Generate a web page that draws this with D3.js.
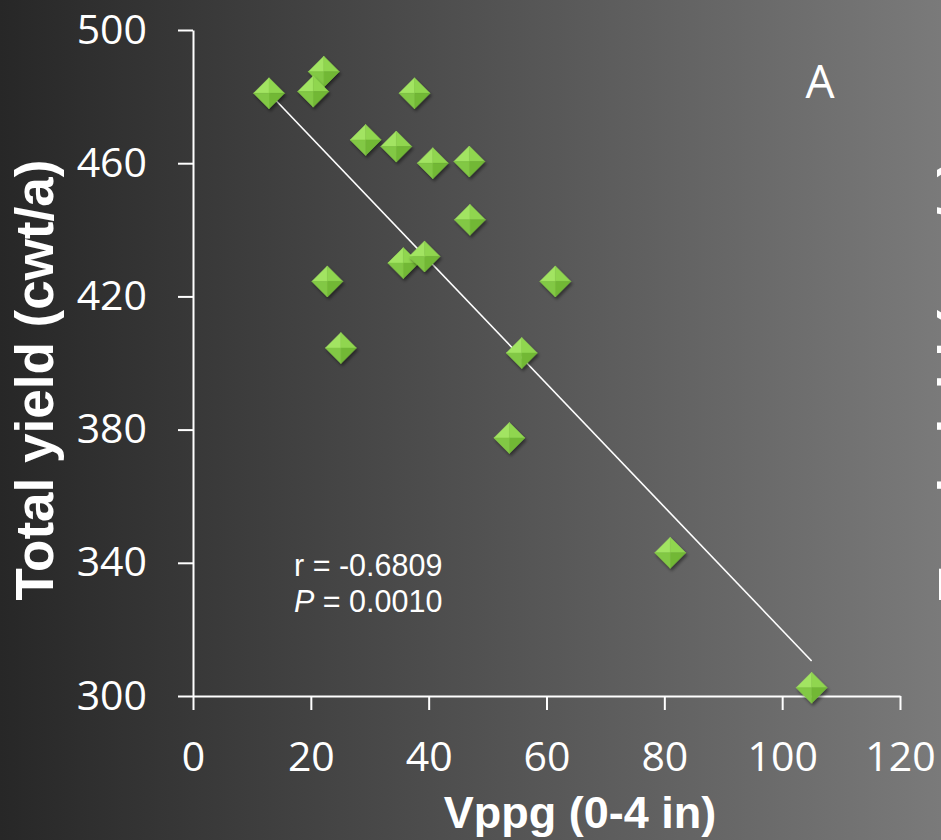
<!DOCTYPE html>
<html>
<head>
<meta charset="utf-8">
<script src="https://cdn.jsdelivr.net/npm/d3@7"></script>
<style>
  html, body { margin: 0; padding: 0; background: #333; }
  svg { display: block; }
</style>
</head>
<body>
<div id="chart"></div>
<script>
// values
const vppg  = [12.9, 22.2, 20.4, 37.6, 29.3, 34.5, 40.7, 46.9, 47.0, 35.7, 39.3, 22.8, 61.5, 25.1, 55.8, 53.7, 81.0, 105.0];
const yield_ = [481.0, 487.5, 481.5, 481.0, 467.0, 465.0, 460.0, 460.5, 443.0, 430.0, 432.0, 424.5, 424.5, 404.5, 403.0, 377.5, 343.0, 302.5];

// fitted line end points
const fitX = [12.9, 105.0];
const fitY = [481.0, 310.5];

const xTicks = [0, 20, 40, 60, 80, 100, 120];
const yTicks = [300, 340, 380, 420, 460, 500];

const width = 941;
const height = 840;

const svg = d3.select("#chart").append("svg")
    .attr("width", width)
    .attr("height", height);

const defs = svg.append("defs");

// 背景漸層
const grad = defs.append("linearGradient")
    .attr("id", "bg")
    .attr("x1", "0%").attr("x2", "100%")
    .attr("y1", "0%").attr("y2", "0%");
grad.append("stop").attr("offset", "0%").attr("stop-color", "#272727");
grad.append("stop").attr("offset", "100%").attr("stop-color", "#7a7a7a");

const shadow = defs.append("filter")
    .attr("id", "shadow")
    .attr("x", "-50%").attr("y", "-50%")
    .attr("width", "200%").attr("height", "200%");
shadow.append("feDropShadow")
    .attr("dx", 1.5).attr("dy", 2.5)
    .attr("stdDeviation", 1.8)
    .attr("flood-color", "#000")
    .attr("flood-opacity", 0.45);

svg.append("rect")
    .attr("width", width)
    .attr("height", height)
    .attr("fill", "url(#bg)");

// scales
const x = d3.scaleLinear().domain([0, 120]).range([193, 900]);
const y = d3.scaleLinear().domain([300, 500]).range([696, 30]);

const tickFont = "'Open Sans', 'DejaVu Sans', sans-serif";

// x axis
const xAxis = d3.axisBottom(x)
    .tickValues(xTicks)
    .tickSize(14)
    .tickSizeOuter(0)
    .tickPadding(32);

const gx = svg.append("g")
    .attr("transform", `translate(0,${y(300)})`)
    .call(xAxis);

// y axis
const yAxis = d3.axisLeft(y)
    .tickValues(yTicks)
    .tickSize(15)
    .tickSizeOuter(0)
    .tickPadding(31);

const gy = svg.append("g")
    .attr("transform", `translate(${x(0)},0)`)
    .call(yAxis);

[gx, gy].forEach(g => {
    g.select(".domain").attr("stroke", "#fff").attr("stroke-width", 2);
    g.selectAll(".tick line").attr("stroke", "#fff").attr("stroke-width", 2);
    g.selectAll(".tick text")
        .attr("fill", "#fff")
        .style("font-family", tickFont)
        .style("font-size", "41px");
});

// 回歸線
const line = d3.line()
    .x(d => x(d[0]))
    .y(d => y(d[1]));

svg.append("path")
    .datum(d3.zip(fitX, fitY))
    .attr("d", line)
    .attr("fill", "none")
    .attr("stroke", "#fff")
    .attr("stroke-width", 1.6);

// diamond markers with bevel faces
const r = 15.5;
const faces = [
    {pts: [[0, 0], [-r, 0], [0, -r]], fill: "#a2e462"},
    {pts: [[0, 0], [0, -r], [r, 0]], fill: "#90d650"},
    {pts: [[0, 0], [r, 0], [0, r]], fill: "#72b836"},
    {pts: [[0, 0], [0, r], [-r, 0]], fill: "#82c844"}
];

const pts = svg.append("g").attr("class", "points");

const marker = pts.selectAll("g")
    .data(d3.zip(vppg, yield_))
    .join("g")
    .attr("transform", d => `translate(${x(d[0])},${y(d[1])})`)
    .attr("filter", "url(#shadow)");

marker.selectAll("path")
    .data(faces)
    .join("path")
    .attr("d", f => "M" + f.pts.join("L") + "Z")
    .attr("fill", f => f.fill)
    .attr("stroke", f => f.fill)
    .attr("stroke-width", 0.5);

// labels
const boldFont = "'Liberation Sans', Arial, sans-serif";

svg.append("text")
    .attr("x", 580)
    .attr("y", 828)
    .attr("text-anchor", "middle")
    .attr("fill", "#fff")
    .style("font-family", boldFont)
    .style("font-weight", "bold")
    .style("font-size", "45px")
    .text("Vppg (0-4 in)");

svg.append("text")
    .attr("transform", "translate(53,380) rotate(-90)")
    .attr("text-anchor", "middle")
    .attr("fill", "#fff")
    .style("font-family", boldFont)
    .style("font-weight", "bold")
    .style("font-size", "53px")
    .text("Total yield (cwt/a)");

// 右邊被切到的下一張圖的標題
svg.append("text")
    .attr("transform", "translate(976,380) rotate(-90)")
    .attr("text-anchor", "middle")
    .attr("fill", "#fff")
    .style("font-family", boldFont)
    .style("font-weight", "bold")
    .style("font-size", "53px")
    .text("Total yield (cwt/a)");

svg.append("text")
    .attr("x", 820)
    .attr("y", 98)
    .attr("text-anchor", "middle")
    .attr("fill", "#fff")
    .style("font-family", tickFont)
    .style("font-size", "46px")
    .text("A");

const stats = svg.append("g")
    .attr("fill", "#fff")
    .style("font-family", boldFont)
    .style("font-size", "30.5px");

stats.append("text")
    .attr("x", 294)
    .attr("y", 576)
    .text("r = -0.6809");

const pText = stats.append("text")
    .attr("x", 294)
    .attr("y", 612);
pText.append("tspan").style("font-style", "italic").text("P");
pText.append("tspan").text(" = 0.0010");
</script>
</body>
</html>
